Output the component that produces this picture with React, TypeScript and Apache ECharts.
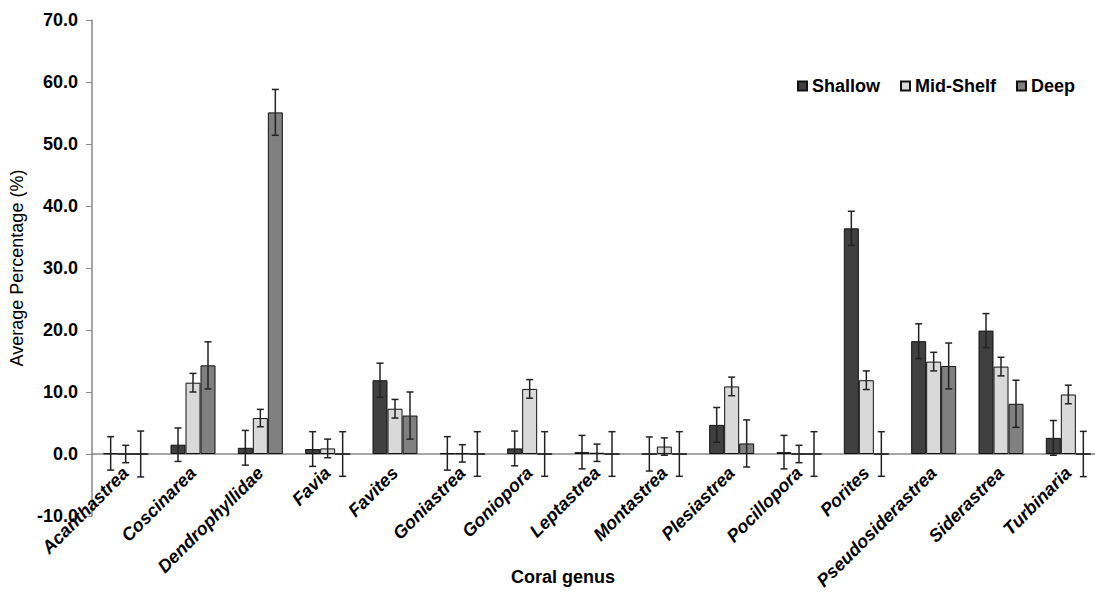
import React, { useEffect, useRef } from "react";
import * as echarts from "echarts";

const categories = [
  "Acanthastrea", "Coscinarea", "Dendrophyllidae", "Favia", "Favites",
  "Goniastrea", "Goniopora", "Leptastrea", "Montastrea", "Plesiastrea",
  "Pocillopora", "Porites", "Pseudosiderastrea", "Siderastrea", "Turbinaria",
];
const seriesNames = ["Shallow", "Mid-Shelf", "Deep"];
const shallow = [0.1, 1.5, 1.0, 0.8, 11.9, 0.1, 0.9, 0.3, 0.0, 4.7, 0.3, 36.4, 18.2, 19.9, 2.6];
const shallowErr = [2.7, 2.7, 2.8, 2.8, 2.75, 2.7, 2.8, 2.7, 2.75, 2.8, 2.7, 2.75, 2.8, 2.75, 2.8];
const midShelf = [0.0, 11.5, 5.8, 0.9, 7.3, 0.1, 10.5, 0.2, 1.2, 10.9, 0.0, 11.9, 14.9, 14.1, 9.6];
const midShelfErr = [1.4, 1.5, 1.4, 1.5, 1.5, 1.4, 1.5, 1.4, 1.4, 1.5, 1.4, 1.5, 1.5, 1.5, 1.5];
const deep = [0.0, 14.3, 55.1, 0.0, 6.2, 0.0, 0.0, 0.0, 0.0, 1.7, 0.0, 0.0, 14.2, 8.1, 0.0];
const deepErr = [3.7, 3.8, 3.7, 3.6, 3.8, 3.6, 3.6, 3.6, 3.6, 3.8, 3.6, 3.6, 3.7, 3.8, 3.65];
const yTicks = { min: -10, max: 70, interval: 10 };

const FONT = "'Liberation Sans', Arial, sans-serif";
const colors = ["#404040", "#d9d9d9", "#808080"];

export default function App() {
  const ref = useRef<HTMLDivElement>(null);
  useEffect(() => {
    if (!ref.current) return;
    const chart = echarts.init(ref.current, null, { renderer: "svg" });
    const values = [shallow, midShelf, deep];
    const errs = [shallowErr, midShelfErr, deepErr];
    const barW = 15;
    const offsets = [-barW, 0, barW];

    const barSeries = seriesNames.map((name, i) => ({
      name,
      type: "bar",
      data: values[i],
      barWidth: barW,
      barGap: "0%",
      itemStyle: { color: colors[i], borderColor: "#111", borderWidth: 1 },
      z: 2,
    }));

    const errSeries = seriesNames.map((name, i) => ({
      name: name + " error",
      type: "custom",
      z: 5,
      data: values[i].map((v, k) => [k, v, errs[i][k]]),
      renderItem: (params: any, api: any) => {
        const idx = api.value(0);
        const v = api.value(1);
        const e = api.value(2);
        const top = api.coord([idx, v + e]);
        const bot = api.coord([idx, v - e]);
        const cx = top[0] + offsets[i];
        const cap = 3.5;
        const style = { stroke: "#222", lineWidth: 1.5 };
        return {
          type: "group",
          children: [
            { type: "line", shape: { x1: cx, y1: top[1], x2: cx, y2: bot[1] }, style },
            { type: "line", shape: { x1: cx - cap, y1: top[1], x2: cx + cap, y2: top[1] }, style },
            { type: "line", shape: { x1: cx - cap, y1: bot[1], x2: cx + cap, y2: bot[1] }, style },
          ],
        };
      },
    }));

    chart.setOption({
      animation: false,
      textStyle: { fontFamily: FONT },
      grid: { left: 92, top: 20, bottom: 84, right: -7, containLabel: false, outerBoundsMode: "none" },
      legend: {
        data: seriesNames,
        right: 15,
        top: 72,
        itemWidth: 9,
        itemHeight: 9,
        itemGap: 20,
        icon: "rect",
        textStyle: { fontSize: 18, fontWeight: "bold", color: "#000", fontFamily: FONT },
      },
      xAxis: {
        type: "category",
        data: categories,
        axisLine: { onZero: true, lineStyle: { color: "#898989", width: 1.5 } },
        axisTick: { show: false },
        axisLabel: {
          interval: 0,
          rotate: 45,
          margin: -46,
          fontSize: 18,
          fontWeight: "bold",
          fontStyle: "italic",
          color: "#000",
          fontFamily: FONT,
        },
      },
      yAxis: {
        type: "value",
        min: yTicks.min,
        max: yTicks.max,
        interval: yTicks.interval,
        name: "Average Percentage (%)",
        nameLocation: "middle",
        nameGap: 65,
        nameRotate: 90,
        nameTextStyle: { fontSize: 18, color: "#000", fontFamily: FONT },
        axisLine: { show: true, lineStyle: { color: "#898989", width: 1.5 } },
        axisTick: { show: true, length: 6, lineStyle: { color: "#898989" } },
        splitLine: { show: false },
        axisLabel: {
          formatter: (v: number) => v.toFixed(1),
          fontSize: 18,
          fontWeight: "bold",
          color: "#000",
          margin: 14,
          fontFamily: FONT,
        },
      },
      graphic: [
        {
          type: "text",
          left: 511,
          top: 568,
          style: { text: "Coral genus", fontSize: 18, fontWeight: "bold", fill: "#000", fontFamily: FONT },
        },
      ],
      series: [...barSeries, ...errSeries],
    });
    return () => chart.dispose();
  }, []);
  return (
    <div style={{ position: "absolute", left: 0, top: 0, width: 1095, height: 600, background: "#fff" }}>
      <div ref={ref} style={{ width: 1095, height: 600 }} />
    </div>
  );
}
